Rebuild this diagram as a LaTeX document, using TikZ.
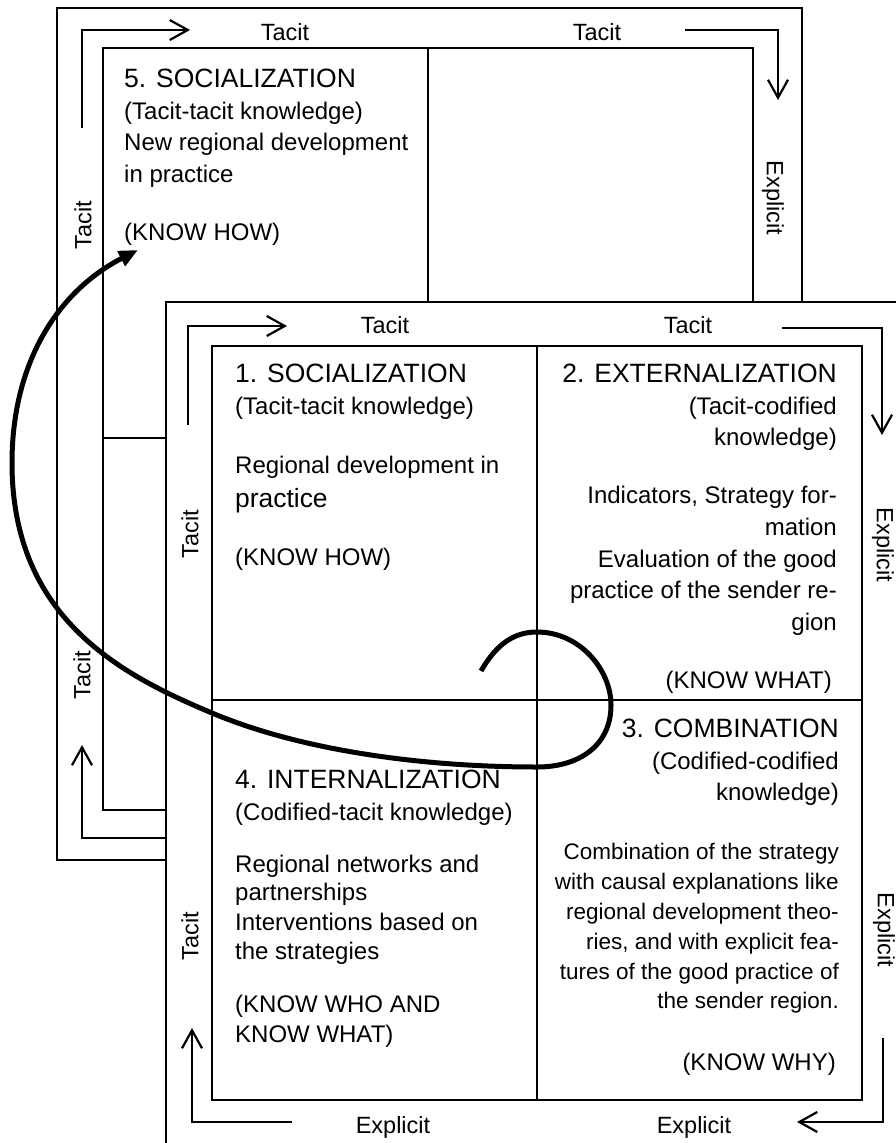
\documentclass[tikz,border=0pt]{standalone}
\usepackage{fontspec}
\setmainfont{Liberation Sans}
\usetikzlibrary{arrows.meta}
\begin{document}
\begin{tikzpicture}[x=1pt,y=-1pt,
  fr/.style={line width=2.2pt},
  farr/.style={line width=2.2pt,-{Straight Barb[length=18pt,width=20pt]}},
  bigarr/.style={line width=5pt,-{Triangle[length=19pt,width=16pt]}},
  t/.style={font=\fontsize{24}{30}\selectfont, inner sep=0pt},
  tbig/.style={font=\fontsize{26.4}{30}\selectfont, inner sep=0pt},
  ttl/.style={font=\fontsize{26.5}{30}\selectfont, inner sep=0pt},
  sm/.style={font=\fontsize{22.5}{30}\selectfont, inner sep=0pt},
  lbl/.style={font=\fontsize{23.5}{28}\selectfont, inner sep=0pt},
  lw/.style={anchor=base west},
  le/.style={anchor=base east}]
\useasboundingbox (0,0) rectangle (896,1143);

% ---------- back frame (5) ----------
\draw[fr] (57,8) rectangle (802,860);
\draw[fr] (103,48) rectangle (753,810);
\draw[fr] (428,48) -- (428,810);
\draw[fr] (103,438) -- (753,438);

\node[ttl,lw] (f5t) at (124,87) {5. SOCIALIZATION};
\node[t,lw] (f5a) at (124,119) {(Tacit-tacit knowledge)};
\node[t,lw] (f5b) at (124,150) {New regional development};
\node[t,lw] (f5c) at (124,182) {in practice};
\node[t,lw] (f5d) at (124,240) {(KNOW HOW)};

\node[lbl,anchor=base] (l5a) at (285,40) {Tacit};
\node[lbl,anchor=base] (l5b) at (597,40) {Tacit};
\node[lbl,rotate=-90] (l5c) at (773,198) {Explicit};
\node[lbl,rotate=90] (l5d) at (83,225) {Tacit};
\node[lbl,rotate=90] (l5e) at (82,675) {Tacit};

\coordinate (p5a1) at (82,128); \coordinate (p5a2) at (82,30); \coordinate (p5a3) at (190,30);
\coordinate (p5b1) at (685,30); \coordinate (p5b2) at (778,30); \coordinate (p5b3) at (778,100);
\coordinate (p5c1) at (166,838); \coordinate (p5c2) at (82,838); \coordinate (p5c3) at (82,745);
\draw[farr] (p5a1) -- (p5a2) -- (p5a3);
\draw[farr] (p5b1) -- (p5b2) -- (p5b3);
\draw[farr] (p5c1) -- (p5c2) -- (p5c3);

% ---------- front frame (1-4) ----------
\draw[fr,fill=white] (166,302) rectangle (912,1160);
\draw[fr] (212,346) rectangle (862,1100);
\draw[fr] (537,346) -- (537,1100);
\draw[fr] (212,700) -- (862,700);

% Q1
\node[ttl,lw] (q1t) at (235,382) {1. SOCIALIZATION};
\node[t,lw] (q1a) at (235,414) {(Tacit-tacit knowledge)};
\node[t,lw] (q1b) at (235,473) {Regional development in};
\node[tbig,lw] (q1c) at (235,507) {practice};
\node[t,lw] (q1d) at (235,565) {(KNOW HOW)};
% Q2
\node[ttl,le] (q2t) at (837,382) {2. EXTERNALIZATION};
\node[t,le] (q2a) at (837,414) {(Tacit-codified};
\node[t,le] (q2b) at (837,445) {knowledge)};
\node[t,le] (q2c) at (837,503) {Indicators, Strategy for-};
\node[t,le] (q2d) at (837,535) {mation};
\node[t,le] (q2e) at (837,567) {Evaluation of the good};
\node[t,le] (q2f) at (837,598) {practice of the sender re-};
\node[t,le] (q2g) at (837,630) {gion};
\node[t,le] (q2h) at (832,688) {(KNOW WHAT)};
% Q3
\node[ttl,le] (q3t) at (839,737) {3. COMBINATION};
\node[t,le] (q3a) at (839,769) {(Codified-codified};
\node[t,le] (q3b) at (839,800) {knowledge)};
\node[sm,le] (q3c) at (839,859) {Combination of the strategy};
\node[sm,le] (q3d) at (839,889) {with causal explanations like};
\node[sm,le] (q3e) at (839,919) {regional development theo-};
\node[sm,le] (q3f) at (839,949) {ries, and with explicit fea-};
\node[sm,le] (q3g) at (839,979) {tures of the good practice of};
\node[sm,le] (q3h) at (839,1008) {the sender region.};
\node[t,le] (q3i) at (836,1070) {(KNOW WHY)};
% Q4
\node[ttl,lw] (q4t) at (235,788) {4. INTERNALIZATION};
\node[t,lw] (q4a) at (235,820) {(Codified-tacit knowledge)};
\node[t,lw] (q4b) at (235,872) {Regional networks and};
\node[t,lw] (q4c) at (235,900) {partnerships};
\node[t,lw] (q4d) at (235,930) {Interventions based on};
\node[t,lw] (q4e) at (235,959) {the strategies};
\node[t,lw] (q4f) at (235,1012) {(KNOW WHO AND};
\node[t,lw] (q4g) at (235,1042) {KNOW WHAT)};

% labels
\node[lbl,anchor=base] (la) at (385,333) {Tacit};
\node[lbl,anchor=base] (lb) at (688,333) {Tacit};
\node[lbl,rotate=-90] (lc) at (883,545) {Explicit};
\node[lbl,rotate=90] (ld) at (190,534) {Tacit};
\node[lbl,rotate=90] (le) at (190,936) {Tacit};
\node[lbl,anchor=base] (lf) at (393,1133) {Explicit};
\node[lbl,anchor=base] (lg) at (694,1133) {Explicit};
\node[lbl,rotate=-90] (lh) at (884,930) {Explicit};

\coordinate (pa1) at (188,425); \coordinate (pa2) at (188,326); \coordinate (pa3) at (287,326);
\coordinate (pb1) at (782,328); \coordinate (pb2) at (882,328); \coordinate (pb3) at (882,435);
\coordinate (pc1) at (292,1122); \coordinate (pc2) at (192,1122); \coordinate (pc3) at (192,1028);
\coordinate (pd1) at (883,1038); \coordinate (pd2) at (883,1122); \coordinate (pd3) at (797,1122);
\draw[farr] (pa1) -- (pa2) -- (pa3);
\draw[farr] (pb1) -- (pb2) -- (pb3);
\draw[farr] (pc1) -- (pc2) -- (pc3);
\draw[farr] (pd1) -- (pd2) -- (pd3);

% ---------- big curved arrow ----------
\coordinate (cs) at (481,671);
\coordinate (ct) at (138,250);
\draw[bigarr] (cs) .. controls (497,643) and (515,632) .. (537,632)
  .. controls (580,632) and (611,670) .. (611,705)
  .. controls (611,745) and (580,767) .. (537,767)
  .. controls (420,767) and (300,750) .. (212,713)
  .. controls (124,676) and (12,620) .. (12,463)
  .. controls (12,360) and (60,290) .. (ct);
\end{tikzpicture}
\end{document}
